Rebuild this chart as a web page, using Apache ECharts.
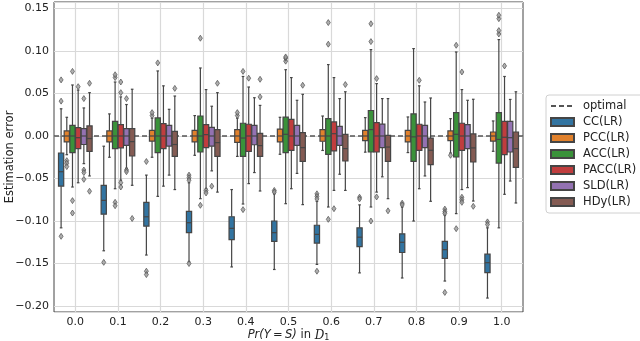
<!DOCTYPE html>
<html>
<head>
<meta charset="utf-8">
<script src="https://cdn.jsdelivr.net/npm/echarts@6/dist/echarts.min.js"></script>
<style>
  html, body { margin: 0; padding: 0; background: #fff; }
  #main { width: 640px; height: 341px; }
</style>
</head>
<body>
<div id="main"></div>
<script>
// categories and methods
const categories = ["0.0", "0.1", "0.2", "0.3", "0.4", "0.5", "0.6", "0.7", "0.8", "0.9", "1.0"];
const methods = ["CC(LR)", "PCC(LR)", "ACC(LR)", "PACC(LR)", "SLD(LR)", "HDy(LR)"];
const colors = ["#3274a1", "#e1812c", "#3a923a", "#c03d3e", "#9372b2", "#845b53"];

// [min, q1, median, q3, max] per category
const ccBoxes = [
  [-0.108, -0.059, -0.042, -0.020, 0.032],
  [-0.135, -0.092, -0.0757, -0.058, -0.012],
  [-0.140, -0.106, -0.095, -0.078, -0.046],
  [-0.148, -0.1137, -0.102, -0.0886, -0.055],
  [-0.154, -0.1219, -0.1086, -0.095, -0.063],
  [-0.157, -0.124, -0.1137, -0.100, -0.068],
  [-0.151, -0.126, -0.1157, -0.105, -0.077],
  [-0.161, -0.130, -0.119, -0.108, -0.081],
  [-0.167, -0.137, -0.125, -0.115, -0.0835],
  [-0.1706, -0.144, -0.1337, -0.124, -0.093],
  [-0.1906, -0.1607, -0.149, -0.139, -0.108]
];
const pccBoxes = [
  [-0.022, -0.007, 0.000, 0.006, 0.022],
  [-0.025, -0.007, 0.000, 0.006, 0.026],
  [-0.025, -0.006, 0.000, 0.0067, 0.021],
  [-0.0227, -0.007, 0.000, 0.0067, 0.024],
  [-0.024, -0.0075, 0.000, 0.0075, 0.021],
  [-0.0215, -0.007, 0.000, 0.0082, 0.022],
  [-0.017, -0.0062, 0.000, 0.0075, 0.0235],
  [-0.019, -0.0055, 0.000, 0.0067, 0.0216],
  [-0.0195, -0.007, 0.000, 0.0067, 0.0224],
  [-0.020, -0.0055, 0.000, 0.006, 0.0204],
  [-0.018, -0.006, 0.000, 0.0047, 0.0177]
];
const accBoxes = [
  [-0.060, -0.0195, 0.000, 0.0126, 0.060],
  [-0.062, -0.0148, 0.000, 0.0173, 0.0635],
  [-0.071, -0.0195, 0.000, 0.0212, 0.0765],
  [-0.0737, -0.0188, 0.000, 0.0235, 0.080],
  [-0.080, -0.024, -0.0024, 0.0150, 0.070],
  [-0.0796, -0.0195, 0.002, 0.0222, 0.078],
  [-0.0835, -0.0215, 0.000, 0.0204, 0.084],
  [-0.0835, -0.0188, 0.0075, 0.030, 0.1016],
  [-0.100, -0.0298, -0.001, 0.026, 0.1028],
  [-0.0913, -0.0247, 0.002, 0.0275, 0.0988],
  [-0.108, -0.0318, -0.004, 0.0275, 0.1134]
];
const paccBoxes = [
  [-0.055, -0.0148, -0.002, 0.0099, 0.054],
  [-0.052, -0.014, 0.000, 0.0134, 0.046],
  [-0.059, -0.0148, 0.000, 0.0146, 0.059],
  [-0.062, -0.0137, 0.0016, 0.0134, 0.0546],
  [-0.056, -0.018, 0.000, 0.0138, 0.0576],
  [-0.062, -0.017, 0.000, 0.0196, 0.0687],
  [-0.064, -0.0176, 0.0027, 0.0165, 0.0687],
  [-0.066, -0.0188, 0.000, 0.0158, 0.0616],
  [-0.062, -0.017, 0.000, 0.0138, 0.059],
  [-0.063, -0.017, 0.000, 0.015, 0.0546],
  [-0.0686, -0.022, -0.0015, 0.0173, 0.070]
];
const sldBoxes = [
  [-0.0325, -0.010, 0.000, 0.0087, 0.033],
  [-0.038, -0.011, 0.000, 0.0087, 0.037],
  [-0.046, -0.0118, 0.000, 0.0126, 0.0314],
  [-0.041, -0.012, 0.000, 0.0102, 0.035],
  [-0.043, -0.0103, 0.000, 0.0126, 0.045],
  [-0.044, -0.011, 0.000, 0.0126, 0.042],
  [-0.045, -0.011, 0.000, 0.0114, 0.044],
  [-0.048, -0.0137, 0.000, 0.014, 0.044],
  [-0.047, -0.0137, 0.000, 0.0126, 0.040],
  [-0.0607, -0.0148, 0.000, 0.0134, 0.042],
  [-0.053, -0.0188, -0.002, 0.0173, 0.043]
];
const hdyBoxes = [
  [-0.047, -0.018, -0.003, 0.0118, 0.051],
  [-0.058, -0.0235, -0.0066, 0.0087, 0.055],
  [-0.063, -0.024, -0.010, 0.0055, 0.047],
  [-0.066, -0.024, -0.0078, 0.0075, 0.051],
  [-0.0647, -0.024, -0.0113, 0.0032, 0.036],
  [-0.0807, -0.0298, -0.0137, 0.004, 0.049],
  [-0.064, -0.0294, -0.0148, 0.002, 0.052],
  [-0.0737, -0.0298, -0.013, 0.0008, 0.044],
  [-0.0768, -0.0337, -0.0168, -0.0024, 0.0447],
  [-0.0765, -0.0306, -0.014, 0.0024, 0.0432],
  [-0.0788, -0.037, -0.0148, 0.0047, 0.052]
];

// outliers: [category index, value]
const ccOutliers = [
  [0, 0.066], [0, 0.041], [0, -0.118], [1, -0.1486], [2, -0.030], [2, -0.159], [2, -0.163],
  [3, -0.046], [3, -0.049], [3, -0.052], [3, -0.150], [5, -0.064], [5, -0.066],
  [6, -0.068], [6, -0.071], [6, -0.074], [6, -0.159], [7, -0.072], [7, -0.074],
  [8, -0.079], [8, -0.081], [9, -0.086], [9, -0.089], [9, -0.091], [9, -0.184],
  [10, -0.101], [10, -0.104]
];
const pccOutliers = [
  [0, -0.029], [0, -0.032], [0, -0.036], [2, 0.024], [2, 0.0275], [4, 0.024], [4, 0.0275], [9, -0.0227]
];
const accOutliers = [
  [0, 0.076], [0, -0.076], [0, -0.0906], [1, 0.0687], [1, 0.072], [1, -0.078], [1, -0.082],
  [2, 0.086], [3, 0.115], [3, -0.0815], [4, 0.076], [4, -0.0866], [5, 0.088], [5, 0.0915], [5, 0.093],
  [6, 0.108], [6, 0.1334], [6, -0.098], [7, 0.111], [7, 0.132], [7, -0.100],
  [9, 0.1067], [9, -0.109], [10, 0.120], [10, 0.124], [10, 0.138], [10, 0.142]
];
const paccOutliers = [
  [0, 0.058], [1, 0.051], [1, 0.0635], [1, -0.055], [1, -0.060], [3, -0.064], [3, -0.067],
  [4, 0.068], [6, -0.0855], [7, 0.0675], [7, -0.0717], [8, 0.0655],
  [9, 0.0753], [9, -0.072], [9, -0.075], [9, -0.078], [10, 0.0824]
];
const sldOutliers = [
  [0, 0.044], [0, -0.040], [0, -0.043], [0, -0.051], [1, 0.044], [1, -0.040], [1, -0.042], [3, -0.059]
];
const hdyOutliers = [
  [0, 0.062], [0, -0.065], [1, -0.097], [2, 0.056], [3, 0.062], [4, 0.0667], [4, 0.046],
  [5, 0.0597], [6, 0.0605], [7, -0.088], [9, -0.0827]
];

const boxes = [ccBoxes, pccBoxes, accBoxes, paccBoxes, sldBoxes, hdyBoxes];
const outliers = [ccOutliers, pccOutliers, accOutliers, paccOutliers, sldOutliers, hdyOutliers];

const chart = echarts.init(document.getElementById("main"));

// seaborn style dodge: 0.8 of a category split between the methods
const slot = 0.8 / methods.length;
function offsetOf(k) {
  return -0.4 + (k + 0.5) * slot;
}

const edge = "#454545";
const font = "DejaVu Sans";

function boxRenderer(k) {
  return function (params, api) {
    const x = api.value(0) + offsetOf(k);
    const lo = api.coord([x, api.value(1)]);
    const q1 = api.coord([x, api.value(2)]);
    const md = api.coord([x, api.value(3)]);
    const q3 = api.coord([x, api.value(4)]);
    const hi = api.coord([x, api.value(5)]);
    const half = api.size([slot * 0.46, 0])[0];
    const cap = half * 0.5;
    const ls = { stroke: edge, lineWidth: 1.2 };
    return {
      type: "group",
      children: [
        { type: "line", shape: { x1: lo[0], y1: lo[1], x2: q1[0], y2: q1[1] }, style: ls },
        { type: "line", shape: { x1: q3[0], y1: q3[1], x2: hi[0], y2: hi[1] }, style: ls },
        { type: "line", shape: { x1: lo[0] - cap, y1: lo[1], x2: lo[0] + cap, y2: lo[1] }, style: ls },
        { type: "line", shape: { x1: hi[0] - cap, y1: hi[1], x2: hi[0] + cap, y2: hi[1] }, style: ls },
        {
          type: "rect",
          shape: { x: q3[0] - half, y: q3[1], width: half * 2, height: q1[1] - q3[1] },
          style: { fill: colors[k], stroke: edge, lineWidth: 1.2 }
        },
        { type: "line", shape: { x1: md[0] - half, y1: md[1], x2: md[0] + half, y2: md[1] }, style: ls }
      ]
    };
  };
}

const series = [{
  name: "optimal",
  type: "line",
  xAxisIndex: 1,
  data: [[-0.5, 0], [10.5, 0]],
  symbol: "none",
  z: 1,
  lineStyle: { color: "#555", width: 1.5, type: [5, 3] },
  itemStyle: { color: "#555" }
}];

methods.forEach(function (m, k) {
  series.push({
    name: m,
    type: "custom",
    xAxisIndex: 1,
    z: 3,
    renderItem: boxRenderer(k),
    encode: { x: 0, y: [1, 2, 3, 4, 5] },
    data: boxes[k].map(function (b, i) { return [i].concat(b); }),
    itemStyle: { color: colors[k], borderColor: edge, borderWidth: 0.8 }
  });
});
methods.forEach(function (m, k) {
  series.push({
    name: m + " outliers",
    type: "scatter",
    xAxisIndex: 1,
    symbol: "diamond",
    symbolSize: [4, 6],
    z: 4,
    data: outliers[k].map(function (p) { return [p[0] + offsetOf(k), p[1]]; }),
    itemStyle: { color: "#9a9a9a", borderColor: edge, borderWidth: 0.8 }
  });
});

const option = {
  animation: false,
  grid: {
    left: 54, right: 117, top: 2, bottom: 29,
    outerBoundsMode: "none",
    show: true, borderColor: "#444", borderWidth: 1, containLabel: false
  },
  legend: {
    orient: "vertical",
    left: 546,
    top: 95,
    padding: [5, 12, 5, 4],
    itemGap: 4,
    itemWidth: 23,
    itemHeight: 8,
    borderColor: "#d0d0d0",
    borderWidth: 1,
    borderRadius: 3,
    textStyle: { fontFamily: font, fontSize: 11.5, color: "#222", padding: [0, 0, 0, 4] },
    data: [{ name: "optimal", itemStyle: { color: "rgba(0,0,0,0)", borderWidth: 0 } }].concat(methods.map(function (m) {
      return { name: m, icon: "rect" };
    }))
  },
  xAxis: [{
    type: "category",
    data: categories,
    boundaryGap: true,
    axisLine: { show: false },
    axisTick: { show: false, alignWithLabel: true },
    splitLine: { show: true, alignWithLabel: true, lineStyle: { color: "#d9d9d9", width: 1.2 } },
    axisLabel: { fontFamily: font, fontSize: 11, color: "#222", margin: 5 },
    name: "{it|Pr(Y\u2009=\u2009S)} in {cal|D}{sub|1}",
    nameLocation: "middle",
    nameGap: 17,
    nameMoveOverlap: false,
    nameTextStyle: {
      fontFamily: font, fontSize: 11.5, color: "#222",
      rich: {
        it: { fontFamily: font, fontStyle: "italic", fontSize: 11.5, color: "#222" },
        cal: { fontFamily: "DejaVu Serif", fontStyle: "italic", fontSize: 12, color: "#222" },
        sub: { fontFamily: font, fontSize: 8, color: "#222", padding: [5, 0, 0, 0] }
      }
    }
  }, {
    type: "value",
    min: -0.5,
    max: 10.5,
    show: false
  }],
  yAxis: {
    type: "value",
    min: -0.207,
    max: 0.1576,
    minInterval: 0.05,
    maxInterval: 0.05,
    axisLine: { show: false },
    axisTick: { show: false },
    splitLine: { lineStyle: { color: "#d9d9d9", width: 1.2 } },
    axisLabel: {
      fontFamily: font, fontSize: 11, color: "#222", margin: 5,
      showMinLabel: false, showMaxLabel: false,
      formatter: function (v) { return v.toFixed(2).replace("-", "\u2212"); }
    },
    name: "Estimation error",
    nameLocation: "middle",
    nameGap: 38,
    nameMoveOverlap: false,
    nameTextStyle: { fontFamily: font, fontSize: 11.5, color: "#222" }
  },
  series: series
};

option && chart.setOption(option);
</script>
</body>
</html>
